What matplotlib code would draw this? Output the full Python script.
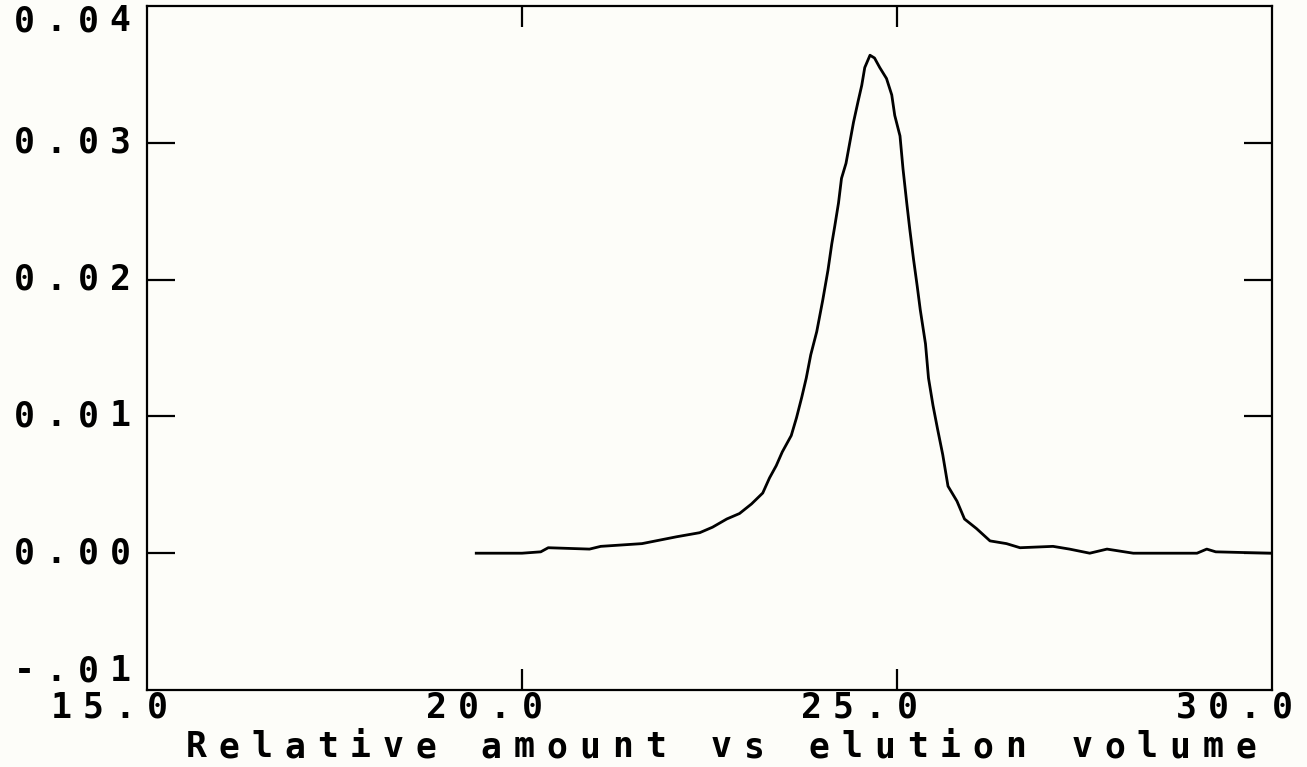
import matplotlib
matplotlib.use("Agg")
import matplotlib.pyplot as plt

# elution curve
volume = [19.39, 20.0, 20.25, 20.35, 20.9, 21.05, 21.6, 22.06, 22.37, 22.54,
          22.73, 22.90, 23.06, 23.21, 23.30, 23.39, 23.47, 23.59, 23.66, 23.73,
          23.79, 23.85, 23.93, 24.01, 24.08, 24.13, 24.17, 24.22, 24.26, 24.32,
          24.37, 24.42, 24.48, 24.53, 24.57, 24.64, 24.70, 24.77, 24.86, 24.93,
          24.97, 25.04, 25.08, 25.13, 25.17, 25.22, 25.27, 25.31, 25.38, 25.42,
          25.48, 25.54, 25.61, 25.68, 25.80, 25.90, 26.06, 26.24, 26.46, 26.64,
          27.08, 27.30, 27.57, 27.80, 28.15, 28.64, 29.00, 29.13, 29.25, 29.97]
amount = [0.0000, 0.0000, 0.0001, 0.0004, 0.0003, 0.0005, 0.0007, 0.0012, 0.0015, 0.0019,
          0.0025, 0.0029, 0.0036, 0.0044, 0.0055, 0.0064, 0.0074, 0.0086, 0.0099, 0.0114,
          0.0128, 0.0145, 0.0162, 0.0185, 0.0207, 0.0226, 0.0239, 0.0256, 0.0274, 0.0285,
          0.0300, 0.0315, 0.0330, 0.0342, 0.0355, 0.0364, 0.0362, 0.0355, 0.0347, 0.0335,
          0.0320, 0.0305, 0.0281, 0.0256, 0.0237, 0.0215, 0.0195, 0.0178, 0.0153, 0.0128,
          0.0108, 0.0091, 0.0072, 0.0049, 0.0038, 0.0025, 0.0018, 0.0009, 0.0007, 0.0004,
          0.0005, 0.0003, 0.0000, 0.0003, 0.0000, 0.0000, 0.0000, 0.0003, 0.0001, 0.0000]

x_ticks = [15, 20, 25, 30]
x_labels = ["15.0", "20.0", "25.0", "30.0"]
y_ticks = [-0.01, 0.00, 0.01, 0.02, 0.03, 0.04]
y_labels = ["-.01", "0.00", "0.01", "0.02", "0.03", "0.04"]
title = "Relative amount vs elution volume"

W, H = 1307, 767
bg = "#fdfdf9"
fig = plt.figure(figsize=(W / 100, H / 100), dpi=100, facecolor=bg)
ax = fig.add_axes([147 / W, 1 - 690 / H, (1272 - 147) / W, (690 - 6) / H])
ax.set_facecolor(bg)

ax.plot(volume, amount, color="black", linewidth=2.0)

ax.set_xlim(15, 30)
ax.set_ylim(-0.01, 0.04)
for s in ax.spines.values():
    s.set_linewidth(1.6)
    s.set_color("black")

# inward ticks on all four sides, labels drawn by hand below
ax.set_xticks(x_ticks[1:-1])
ax.set_yticks(y_ticks[1:-1])
ax.tick_params(axis="x", direction="in", length=15, width=1.6,
               top=True, bottom=True, labelbottom=False)
ax.tick_params(axis="y", direction="in", length=20, width=1.6,
               left=True, right=True, labelleft=False)


def put_chars(s, x0, y, pitch=32, size=25):
    # old plotter font: wide fixed pitch, one glyph per cell
    for i, ch in enumerate(s):
        fig.text((x0 + i * pitch) / W, 1 - y / H, ch, ha="center", va="center",
                 fontsize=size, family="DejaVu Sans Mono", fontweight="bold")


def to_px(xv, yv):
    px, py = ax.transData.transform((xv, yv))
    return px, H - py


for v, lab in zip(y_ticks, y_labels):
    _, py = to_px(15, v)
    if v == y_ticks[-1]:
        py += 15
    if v == y_ticks[0]:
        py -= 19
    put_chars(lab, 120 - 3 * 32, py)

for v, lab in zip(x_ticks, x_labels):
    px, _ = to_px(v, 0)
    put_chars(lab, px + 10 - 3 * 32, 708)

put_chars(title, 196, 747, pitch=32.8)

fig.savefig("out.png", dpi=100, facecolor=bg)
